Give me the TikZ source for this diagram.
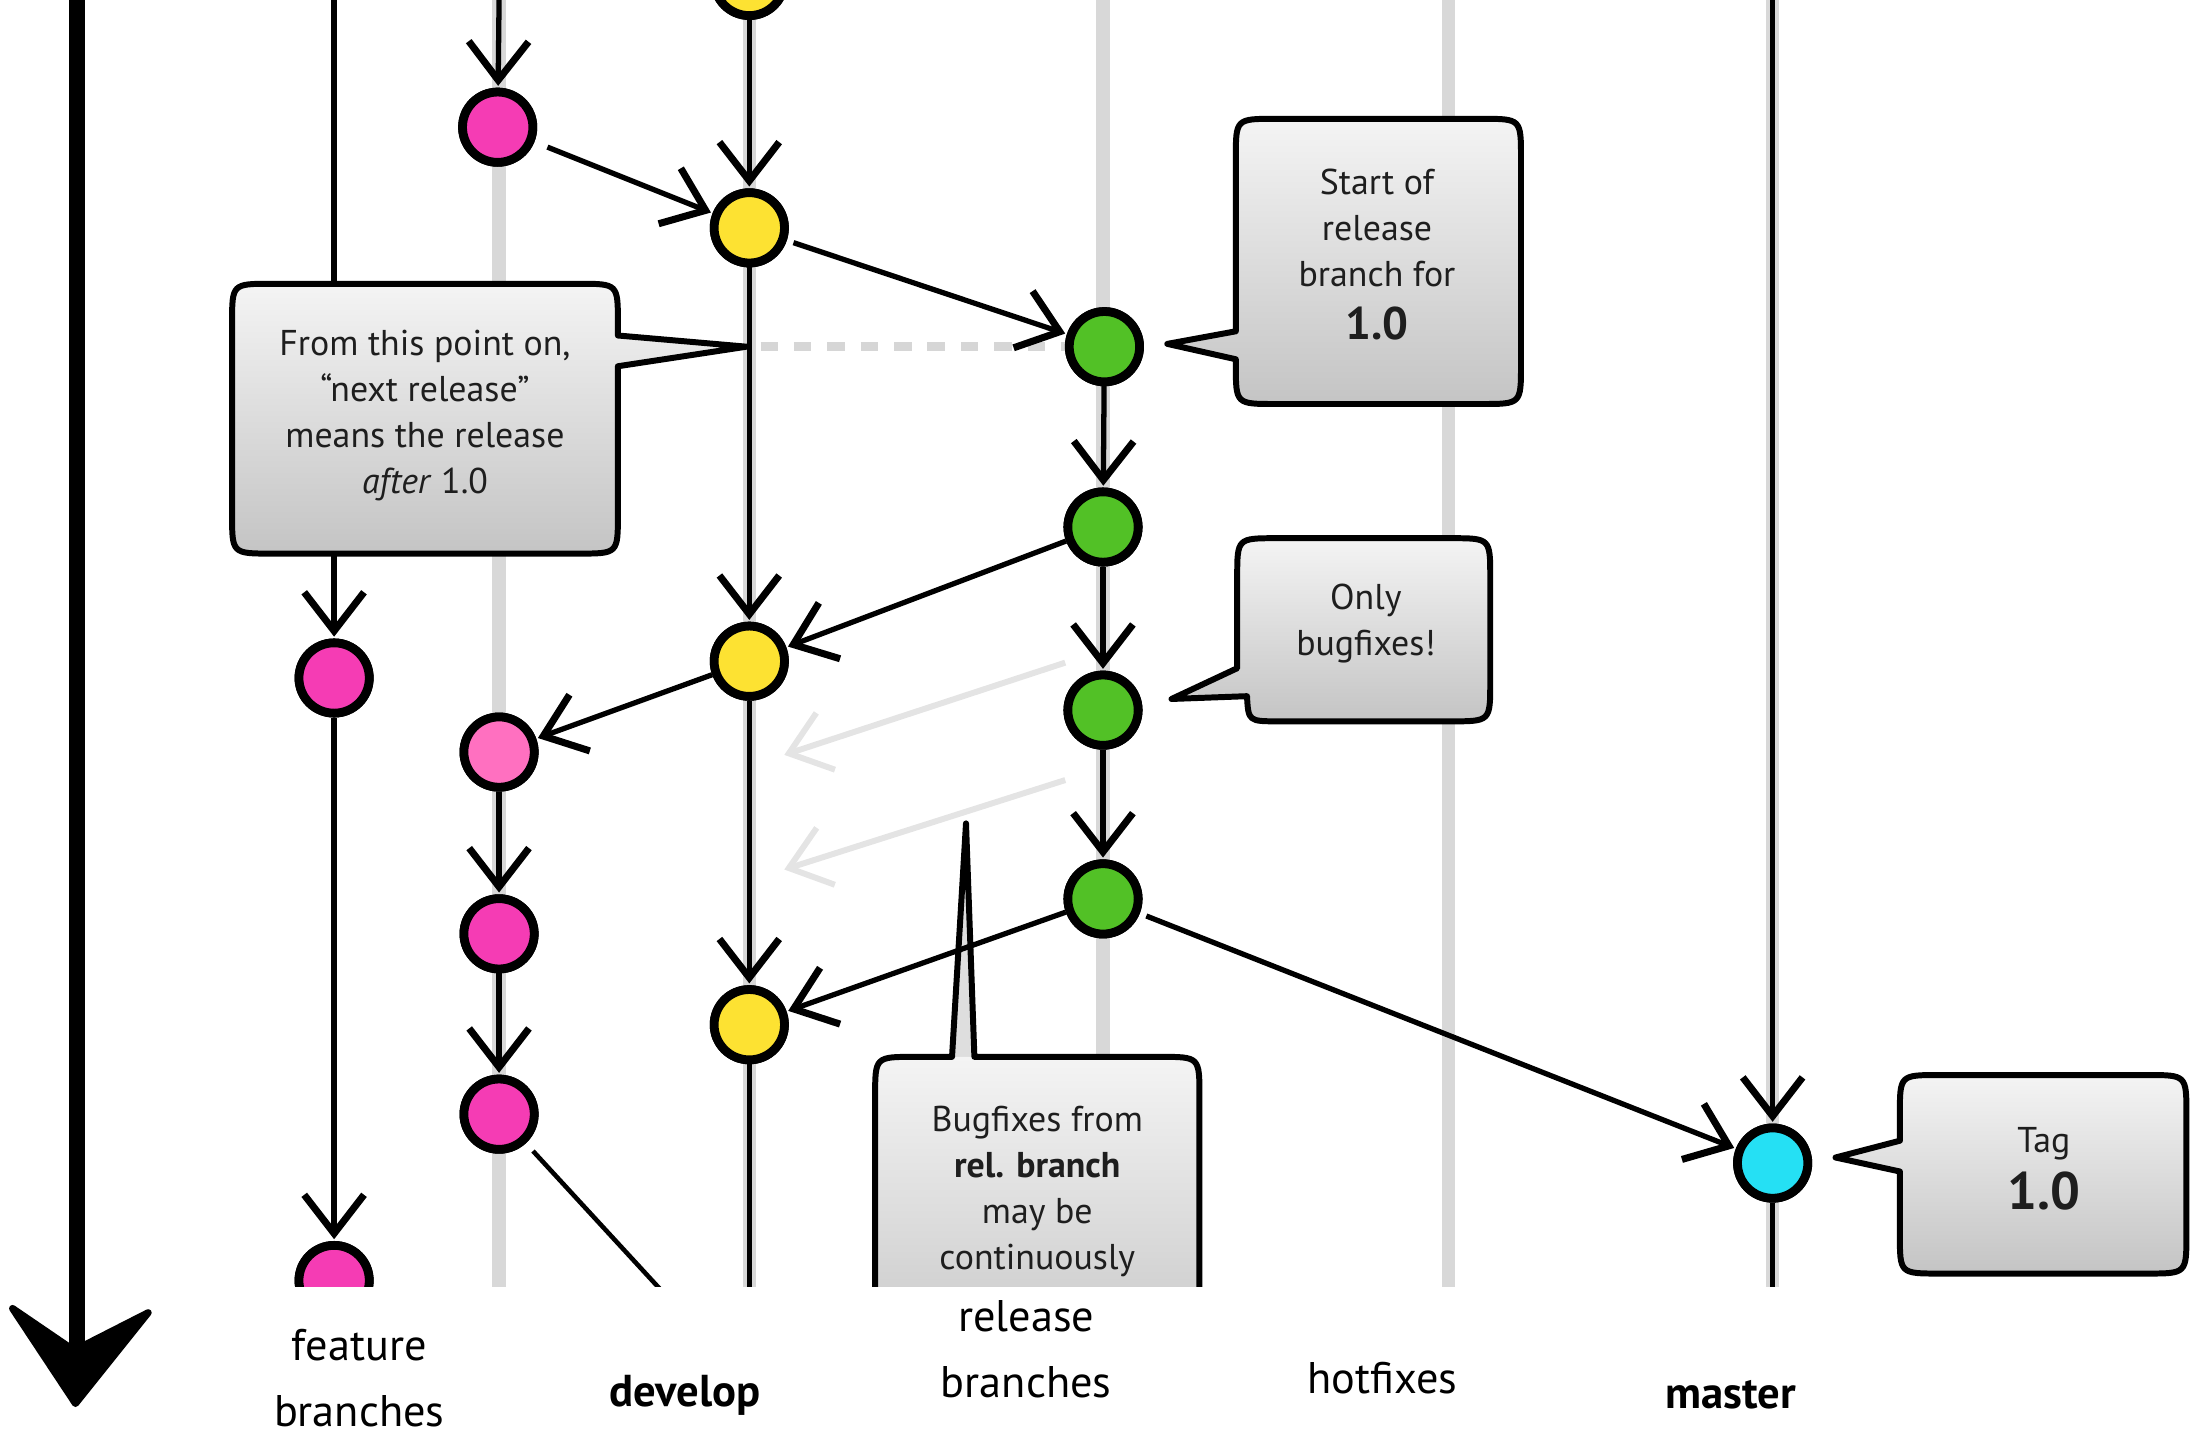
\documentclass[tikz,border=0pt]{standalone}
\usepackage{fontspec}
\setmainfont{PT Sans}
\usetikzlibrary{arrows.meta}

\definecolor{featpink}{RGB}{245,60,180}
\definecolor{featlight}{RGB}{255,112,192}
\definecolor{devyellow}{RGB}{253,226,50}
\definecolor{relgreen}{RGB}{82,193,38}
\definecolor{tagcyan}{RGB}{37,224,244}
\definecolor{lanegray}{RGB}{216,216,216}
\definecolor{dashgray}{RGB}{214,214,214}
\definecolor{fadegray}{RGB}{228,228,228}
\definecolor{calltop}{RGB}{244,244,244}
\definecolor{callbot}{RGB}{196,196,196}
\definecolor{calltext}{RGB}{30,30,30}

\begin{document}
\begin{tikzpicture}[x=0.013980cm, y=-0.013980cm,
  commit/.style={circle, draw=black, line width=2.5pt, minimum size=20pt, inner sep=0pt},
  lane/.style={draw=lanegray, line width=3.8pt},
  trunk/.style={draw=black, line width=1.3pt},
  flow/.style={draw=black, line width=1.5pt, shorten >=0.5pt,
    -{Straight Barb[length=11pt,width=17pt,line width=2pt]}},
  ghost/.style={draw=fadegray, line width=1.7pt,
    -{Straight Barb[length=11pt,width=17pt,line width=1.7pt]}},
  cutline/.style={draw=dashgray, line width=2.4pt, dash pattern=on 5pt off 4.5pt},
  bubble/.style={draw=black, line width=1.7pt, top color=calltop, bottom color=callbot, line join=round},
  bubbletext/.style={align=center, text=calltext, font=\fontsize{10.2}{13.1}\selectfont, inner sep=0pt},
  lanelabel/.style={align=center, text=black, font=\fontsize{12.6}{18.7}\selectfont, inner sep=0pt},
  boldlabel/.style={lanelabel, font=\fontsize{12.7}{18.7}\selectfont\bfseries},
]
\useasboundingbox (0,0) rectangle (1568,1030);

% time axis
\coordinate (timetop) at (55,0);
\coordinate (timeend) at (55,975);
\draw[line width=4.4pt] (timetop) -- (timeend);
\filldraw[line width=2pt, line join=round] (9,936) -- (53,966) -- (106,939) -- (54,1004) -- cycle;

\begin{scope}
\clip (0,0) rectangle (1568,920);

% lane guides
\coordinate (fatop) at (239,0);
\coordinate (fbtop) at (357,0);
\coordinate (fbbot) at (357,925);
\coordinate (dtop) at (536,0);
\coordinate (dbot) at (536,925);
\coordinate (rtop) at (789,0);
\coordinate (rbot) at (789,925);
\coordinate (htop) at (1036,0);
\coordinate (hbot) at (1036,925);
\coordinate (mtop) at (1268,0);
\coordinate (mbot) at (1268,925);
\draw[lane] (fbtop) -- (fbbot);
\draw[lane] (dtop) -- (dbot);
\draw[lane] (rtop) -- (rbot);
\draw[lane] (htop) -- (hbot);
\draw[lane] (mtop) -- (mbot);

% commits
\node[commit, fill=devyellow] (d0) at (536,-14) {};
\node[commit, fill=devyellow] (d1) at (536,163) {};
\node[commit, fill=devyellow] (d2) at (536,473) {};
\node[commit, fill=devyellow] (d3) at (536,733) {};
\node[commit, fill=featpink] (fa1) at (239,485) {};
\node[commit, fill=featpink] (fa2) at (239,916) {};
\node[commit, fill=featpink] (fb0) at (356,91) {};
\node[commit, fill=featlight] (fb1) at (357,538) {};
\node[commit, fill=featpink] (fb2) at (357,668) {};
\node[commit, fill=featpink] (fb3) at (357,797) {};
\node[commit, fill=relgreen] (r0) at (790,248) {};
\node[commit, fill=relgreen] (r1) at (789,377) {};
\node[commit, fill=relgreen] (r2) at (789,508) {};
\node[commit, fill=relgreen] (r3) at (789,643) {};
\node[commit, fill=tagcyan] (m0) at (1268,832) {};

% faint merge hints and branch-off marker
\coordinate (cut) at (544,248);
\draw[cutline] (cut) -- (r0);
\coordinate (g1s) at (762,474);
\coordinate (g1e) at (561,540);
\coordinate (g2s) at (762,558);
\coordinate (g2e) at (561,622);
\draw[ghost] (g1s) -- (g1e);
\draw[ghost] (g2s) -- (g2e);

% bugfix callout (under the merge line that crosses its pointer)
\path[fill=calltop!55!callbot] (654,756) -- (681,756) -- (691,589) -- (697,756) -- (830,756)
  .. controls (858,756) .. (858,784) -- (858,990) -- (626,990) -- (626,784)
  .. controls (626,756) .. (654,756) -- cycle;
\shade[top color=calltop, bottom color=callbot] (654,756) -- (830,756)
  .. controls (858,756) .. (858,784) -- (858,990) -- (626,990) -- (626,784)
  .. controls (626,756) .. (654,756) -- cycle;
\draw[line width=1.7pt, line join=round] (654,756) -- (681,756) -- (691,589) -- (697,756) -- (830,756)
  .. controls (858,756) .. (858,784) -- (858,990) -- (626,990) -- (626,784)
  .. controls (626,756) .. (654,756) -- cycle;
\node[bubbletext] (td) at (742,852) {Bugfixes from\\\textbf{rel. branch}\\may be\\continuously};

% history
\coordinate (fbout) at (484,935);
\draw[flow] (fatop) -- (fa1);
\draw[flow] (fa1) -- (fa2);
\draw[flow] (fbtop) -- (fb0);
\draw[flow, shorten <=4pt] (fb0) -- (d1);
\draw[flow] (d0) -- (d1);
\draw[flow, shorten <=2pt] (d1) -- (r0);
\draw[flow] (r0) -- (r1);
\draw[flow] (r1) -- (r2);
\draw[flow] (r2) -- (r3);
\draw[flow] (r1) -- (d2);
\draw[flow] (d1) -- (d2);
\draw[flow] (d2) -- (fb1);
\draw[flow] (fb1) -- (fb2);
\draw[flow] (fb2) -- (fb3);
\draw[trunk, shorten <=3pt] (fb3) -- (fbout);
\draw[flow] (d2) -- (d3);
\draw[flow] (r3) -- (d3);
\draw[flow, shorten <=2pt] (r3) -- (m0);
\draw[flow] (mtop) -- (m0);
\draw[trunk] (d3) -- (dbot);
\draw[trunk] (m0) -- (mbot);

% redraw commits above the lines
\foreach \n/\c in {d0/devyellow,d1/devyellow,d2/devyellow,d3/devyellow,fa1/featpink,fa2/featpink,
  fb0/featpink,fb1/featlight,fb2/featpink,fb3/featpink,r0/relgreen,r1/relgreen,r2/relgreen,
  r3/relgreen,m0/tagcyan}
  \draw[line width=2.5pt, fill=\c] (\n.center) circle (10pt);

% callouts
\path[bubble] (194,203) -- (414,203) .. controls (442,203) .. (442,231) -- (442,240) -- (534,248)
  -- (442,262) -- (442,368) .. controls (442,396) .. (414,396) -- (194,396)
  .. controls (166,396) .. (166,368) -- (166,231) .. controls (166,203) .. (194,203) -- cycle;
\node[bubbletext] (ta) at (304,297) {From this point on,\\“next release”\\means the release\\\textit{after} 1.0};

\path[bubble] (912,85) -- (1060,85) .. controls (1088,85) .. (1088,113) -- (1088,261)
  .. controls (1088,289) .. (1060,289) -- (912,289) .. controls (884,289) .. (884,261)
  -- (884,257) -- (835,246) -- (884,237) -- (884,113) .. controls (884,85) .. (912,85) -- cycle;
\node[bubbletext] (tb) at (985,182) {Start of\\release\\branch for\\[2pt]{\fontsize{13}{15}\selectfont\bfseries 1.0}};

\path[bubble] (913,385) -- (1038,385) .. controls (1066,385) .. (1066,413) -- (1066,488)
  .. controls (1066,516) .. (1038,516) -- (915,516) .. controls (893,516) .. (892,498)
  -- (838,500) -- (885,478) -- (885,413) .. controls (885,385) .. (913,385) -- cycle;
\node[bubbletext] (tc) at (977,446) {Only\\bugfixes!};

\path[bubble] (1387,769) -- (1536,769) .. controls (1564,769) .. (1564,797) -- (1564,883)
  .. controls (1564,911) .. (1536,911) -- (1387,911) .. controls (1359,911) .. (1359,883)
  -- (1359,838) -- (1313,828) -- (1359,816) -- (1359,797) .. controls (1359,769) .. (1387,769) -- cycle;
\node[bubbletext] (te) at (1462,836) {Tag\\[3pt]{\fontsize{15}{17}\selectfont\bfseries 1.0}};
\end{scope}

% lane names
\node[lanelabel] (lf) at (257,986) {feature\\branches};
\node[boldlabel] (ld) at (490,998) {develop};
\node[lanelabel] (lr) at (734,965) {release\\branches};
\node[lanelabel] (lh) at (989,986) {hotfixes};
\node[boldlabel] (lm) at (1238,998) {master};
\end{tikzpicture}
\end{document}
